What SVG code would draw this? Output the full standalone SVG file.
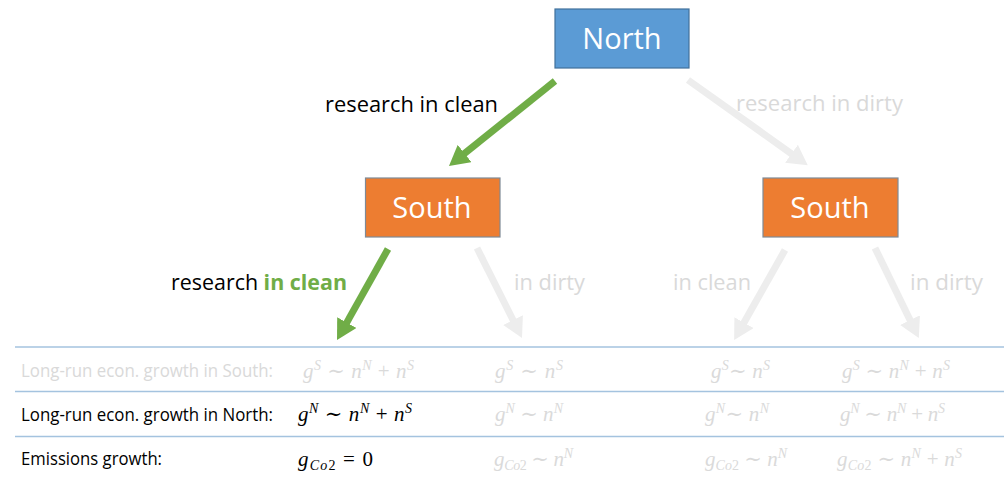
<svg xmlns="http://www.w3.org/2000/svg" width="1004" height="477" viewBox="0 0 1004 477">
<style>
.box-n{fill:#5B9BD5;stroke:#41719C;stroke-width:1.2}
.box-s{fill:#ED7D31;stroke:#7F8A96;stroke-width:1.2}
.nt{font-family:"Open Sans","Liberation Sans",sans-serif;font-size:29px;fill:#FFFFFF;text-anchor:middle}
.lb{font-family:"Open Sans","Liberation Sans",sans-serif;font-size:22px;fill:#000000}
.lbf{font-family:"Open Sans","Liberation Sans",sans-serif;font-size:22px;fill:#D9D9D9}
.gb{fill:#70AD47;font-weight:bold}
.tl{font-family:"Open Sans","Liberation Sans",sans-serif;font-size:17.5px;fill:#000000}
.tlf{font-family:"Open Sans","Liberation Sans",sans-serif;font-size:17.5px;fill:#D9D9D9}
.m{font-family:"Liberation Serif","DejaVu Serif",serif;font-size:21px;font-style:italic;fill:#000000;white-space:pre}
.mf{font-family:"Liberation Serif","DejaVu Serif",serif;font-size:21px;font-style:italic;fill:#DADADA;white-space:pre}
.s{font-size:14px}
.u{font-style:normal}
.ag{stroke:#70AD47;stroke-width:7;fill:none}
.ay{stroke:#EDEDED;stroke-width:7;fill:none}
.rule{stroke:#A4C3DF;stroke-width:1.5}
</style>
<defs>
<marker id="hg" markerUnits="userSpaceOnUse" markerWidth="22" markerHeight="22" refX="1" refY="11" orient="auto"><path d="M0,0 L20,11 L0,22 z" fill="#70AD47"/></marker>
<marker id="hy" markerUnits="userSpaceOnUse" markerWidth="22" markerHeight="22" refX="1" refY="11" orient="auto"><path d="M0,0 L20,11 L0,22 z" fill="#EDEDED"/></marker>
</defs>
<rect width="1004" height="477" fill="#FFFFFF"/>

<g id="connectors">
<line class="ay" x1="688" y1="80" x2="792.3" y2="154.3" marker-end="url(#hy)"/>
<line class="ag" x1="555" y1="81" x2="463.8" y2="154.1" marker-end="url(#hg)"/>
<line class="ag" x1="388" y1="249" x2="346.3" y2="323.4" marker-end="url(#hg)"/>
<line class="ay" x1="477" y1="248" x2="513.5" y2="321" marker-end="url(#hy)"/>
<line class="ay" x1="785" y1="250" x2="743.5" y2="323.5" marker-end="url(#hy)"/>
<line class="ay" x1="875" y1="248" x2="910.5" y2="321" marker-end="url(#hy)"/>
</g>

<g id="edge-labels">
<text class="lb" x="325" y="112" textLength="173" lengthAdjust="spacingAndGlyphs">research in clean</text>
<text class="lbf" x="736" y="111" textLength="167" lengthAdjust="spacingAndGlyphs">research in dirty</text>
<text class="lb" x="171" y="290" textLength="176" lengthAdjust="spacingAndGlyphs">research <tspan class="gb">in clean</tspan></text>
<text class="lbf" x="514" y="290" textLength="71" lengthAdjust="spacingAndGlyphs">in dirty</text>
<text class="lbf" x="673" y="290" textLength="78" lengthAdjust="spacingAndGlyphs">in clean</text>
<text class="lbf" x="910" y="290" textLength="73" lengthAdjust="spacingAndGlyphs">in dirty</text>
</g>

<g id="north">
<rect class="box-n" x="555" y="9" width="134" height="59"/>
<text class="nt" x="622" y="49">North</text>
</g>
<g id="south-left">
<rect class="box-s" x="365.5" y="178" width="134.5" height="59"/>
<text class="nt" x="432" y="218">South</text>
</g>
<g id="south-right">
<rect class="box-s" x="763" y="178" width="135" height="59"/>
<text class="nt" x="830" y="218">South</text>
</g>

<g id="table">
<line class="rule" x1="15" y1="347" x2="1004" y2="347"/>
<line class="rule" x1="15" y1="391.5" x2="1004" y2="391.5"/>
<line class="rule" x1="15" y1="436.5" x2="1004" y2="436.5"/>

<text class="tlf" x="21" y="377" textLength="252" lengthAdjust="spacingAndGlyphs">Long-run econ. growth in South:</text>
<text class="tl" x="21" y="421" textLength="252" lengthAdjust="spacingAndGlyphs">Long-run econ. growth in North:</text>
<text class="tl" x="21" y="465" textLength="141" lengthAdjust="spacingAndGlyphs">Emissions growth:</text>

<text class="mf" x="303" y="378" textLength="111">g<tspan class="s" dy="-8">S</tspan><tspan class="u" dy="8"> ∼ </tspan>n<tspan class="s" dy="-8">N</tspan><tspan class="u" dy="8"> + </tspan>n<tspan class="s" dy="-8">S</tspan></text>
<text class="mf" x="495" y="378" textLength="68">g<tspan class="s" dy="-8">S</tspan><tspan class="u" dy="8"> ∼ </tspan>n<tspan class="s" dy="-8">S</tspan></text>
<text class="mf" x="711" y="378" textLength="59">g<tspan class="s" dy="-8">S</tspan><tspan class="u" dy="8">∼ </tspan>n<tspan class="s" dy="-8">S</tspan></text>
<text class="mf" x="842" y="378" textLength="108">g<tspan class="s" dy="-8">S</tspan><tspan class="u" dy="8"> ∼ </tspan>n<tspan class="s" dy="-8">N</tspan><tspan class="u" dy="8"> + </tspan>n<tspan class="s" dy="-8">S</tspan></text>

<text class="m" x="298" y="421" textLength="114">g<tspan class="s" dy="-8">N</tspan><tspan class="u" dy="8"> ∼ </tspan>n<tspan class="s" dy="-8">N</tspan><tspan class="u" dy="8"> + </tspan>n<tspan class="s" dy="-8">S</tspan></text>
<text class="mf" x="495" y="421" textLength="68">g<tspan class="s" dy="-8">N</tspan><tspan class="u" dy="8"> ∼ </tspan>n<tspan class="s" dy="-8">N</tspan></text>
<text class="mf" x="705" y="421" textLength="64">g<tspan class="s" dy="-8">N</tspan><tspan class="u" dy="8">∼ </tspan>n<tspan class="s" dy="-8">N</tspan></text>
<text class="mf" x="840" y="421" textLength="105">g<tspan class="s" dy="-8">N</tspan><tspan class="u" dy="8"> ∼ </tspan>n<tspan class="s" dy="-8">N</tspan><tspan class="u" dy="8"> + </tspan>n<tspan class="s" dy="-8">S</tspan></text>

<text class="m" x="298" y="466" textLength="75">g<tspan class="s" dy="4">Co</tspan><tspan class="s u">2</tspan><tspan class="u" dy="-4"> = 0</tspan></text>
<text class="mf" x="494" y="466" textLength="79">g<tspan class="s" dy="4">Co</tspan><tspan class="s u">2</tspan><tspan class="u" dy="-4"> ∼ </tspan>n<tspan class="s" dy="-8">N</tspan></text>
<text class="mf" x="705" y="466" textLength="82">g<tspan class="s" dy="4">Co</tspan><tspan class="s u">2</tspan><tspan class="u" dy="-4"> ∼ </tspan>n<tspan class="s" dy="-8">N</tspan></text>
<text class="mf" x="837" y="466" textLength="125">g<tspan class="s" dy="4">Co</tspan><tspan class="s u">2</tspan><tspan class="u" dy="-4"> ∼ </tspan>n<tspan class="s" dy="-8">N</tspan><tspan class="u" dy="8"> + </tspan>n<tspan class="s" dy="-8">S</tspan></text>
</g>
</svg>
